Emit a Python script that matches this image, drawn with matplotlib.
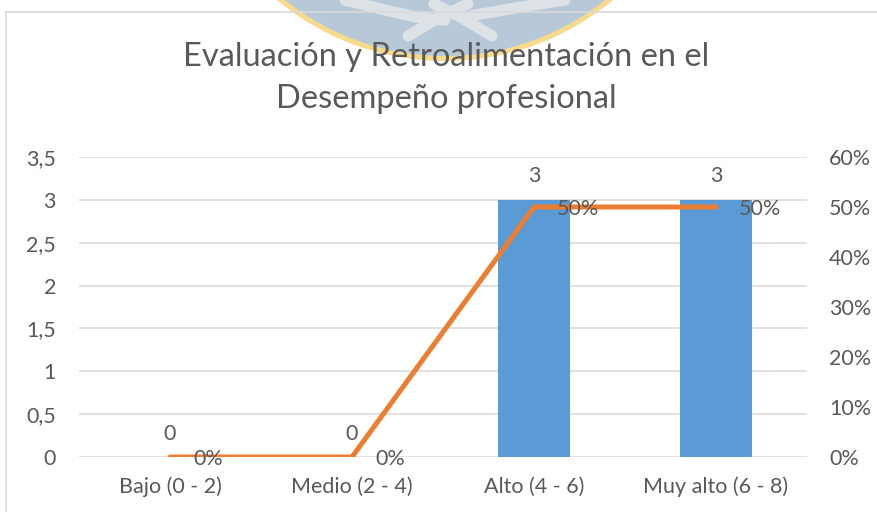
import matplotlib
matplotlib.use("Agg")
import matplotlib.pyplot as plt
from matplotlib.patches import Circle
from matplotlib.lines import Line2D
from matplotlib.transforms import Affine2D
from matplotlib.ticker import FuncFormatter, MultipleLocator

categories = ["Bajo (0 - 2)", "Medio (2 - 4)", "Alto (4 - 6)", "Muy alto (6 - 8)"]
counts = [0, 0, 3, 3]
percents = [0.0, 0.0, 0.5, 0.5]
title_lines = ["Evaluación y Retroalimentación en el", "Desempeño profesional"]

FONT = "Lato"
TXT = "#595959"
BAR = "#5B9BD5"
LINE = "#ED7D31"
GRID = "#D9D9D9"
FS = 15.5

W, H = 878, 512
fig = plt.figure(figsize=(W / 100, H / 100), dpi=100)
fig.patch.set_facecolor("white")

# pixel transform (y downwards, origin top-left)
pix = Affine2D().scale(1 / W, -1 / H).translate(0, 1) + fig.transFigure

# watermark (background logo)
circ = Circle((445, -201), 259.5, facecolor="#B7C9D9", edgecolor="#F8DA8C",
              linewidth=3.6, zorder=0, transform=pix)
fig.patches.append(circ)
for xs, ys in [([345, 385, 420, 445], [0, 10, 18, 20]),
               ([408, 438, 468], [36, 18, 4]),
               ([434, 462, 492], [4, 18, 36]),
               ([470, 515, 565], [16, 8, 0])]:
    fig.add_artist(Line2D(xs, ys, transform=pix, color="#DDE2E7", lw=8,
                          solid_capstyle="round", zorder=0.5))

# chart area border
fig.add_artist(Line2D([6, W], [12, 12], transform=pix, color="#D9D9D9", lw=1.2, zorder=1))
fig.add_artist(Line2D([6, 6], [12, H], transform=pix, color="#D9D9D9", lw=1.2, zorder=1))

left, right = 79 / W, 807 / W
bottom, top = 1 - 457 / H, 1 - 157 / H
ax = fig.add_axes([left, bottom, right - left, top - bottom])
ax.set_facecolor("none")
x = list(range(len(categories)))
ax.bar(x, counts, width=0.396, color=BAR, zorder=2)
ax.set_xlim(-0.5, len(categories) - 0.5)
ax.set_ylim(0, 3.5)
ax.yaxis.set_major_locator(MultipleLocator(0.5))
ax.yaxis.set_major_formatter(FuncFormatter(lambda v, p: (f"{v:g}").replace(".", ",")))
ax.grid(axis="y", color=GRID, lw=1.1, zorder=0)
ax.set_axisbelow(True)
for s in ax.spines.values():
    s.set_visible(False)
ax.tick_params(length=0, labelsize=FS, labelcolor=TXT, pad=16.5)
ax.tick_params(axis="x", pad=14)
ax.set_xticks(x)
ax.set_xticklabels(categories, fontfamily=FONT)
for lab in ax.get_yticklabels():
    lab.set_fontfamily(FONT)
    lab.set_va("center_baseline")

for xi, v in zip(x, counts):
    ax.annotate(f"{v}", (xi, v), xytext=(0, 12.5), textcoords="offset points",
                ha="center", va="baseline", fontsize=FS, color=TXT, fontfamily=FONT)

ax2 = ax.twinx()
ax2.set_ylim(0, 0.6)
ax2.yaxis.set_major_locator(MultipleLocator(0.1))
ax2.yaxis.set_major_formatter(FuncFormatter(lambda v, p: f"{v * 100:.0f}%"))
for s in ax2.spines.values():
    s.set_visible(False)
ax2.tick_params(length=0, labelsize=FS, labelcolor=TXT, pad=16)
for lab in ax2.get_yticklabels():
    lab.set_fontfamily(FONT)
    lab.set_va("center_baseline")
ax2.plot(x, percents, color=LINE, lw=3.6, solid_capstyle="round",
         solid_joinstyle="round", zorder=3)
for xi, v in zip(x, percents):
    ax2.annotate(f"{v * 100:.0f}%", (xi, v), xytext=(16.5, 0.3), textcoords="offset points",
                 ha="left", va="center_baseline", fontsize=FS, color=TXT, fontfamily=FONT)

for line, base in zip(title_lines, [66, 108]):
    fig.text(446 / W, 1 - base / H, line, ha="center", va="baseline", fontsize=23.5,
             color=TXT, fontfamily=FONT, fontweight="normal", zorder=3)

fig.savefig("out.png", dpi=100)
